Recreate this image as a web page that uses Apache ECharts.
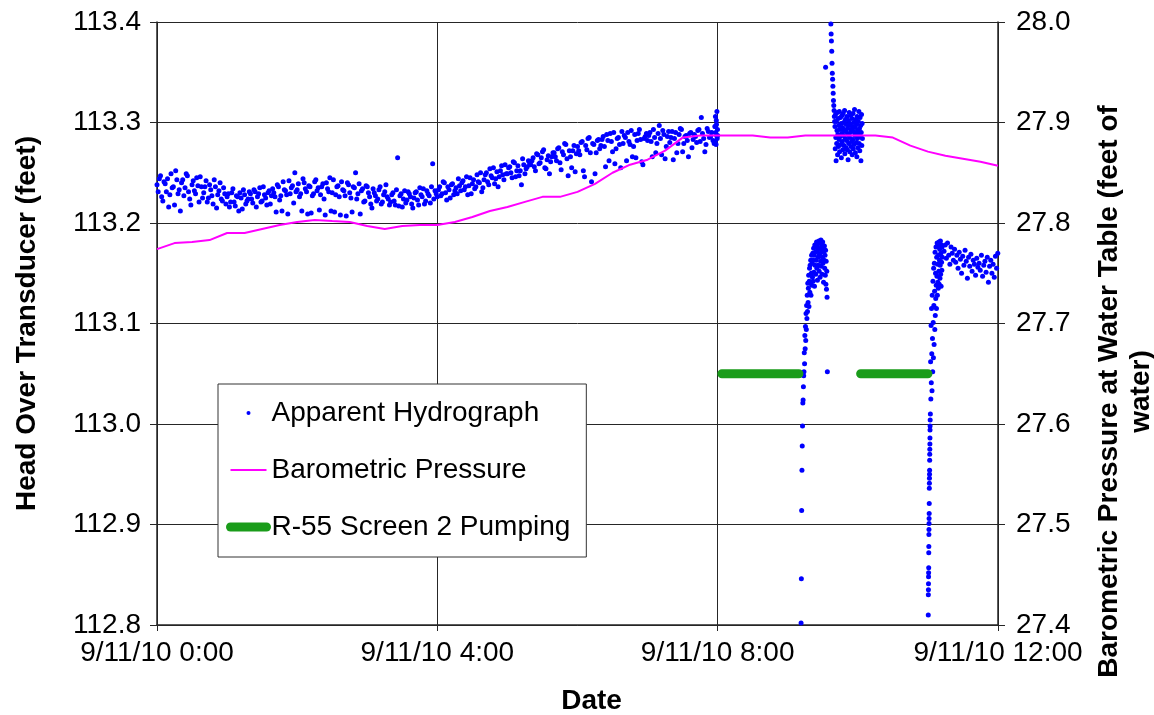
<!DOCTYPE html>
<html>
<head>
<meta charset="utf-8">
<script src="https://cdn.jsdelivr.net/npm/echarts@6/dist/echarts.min.js"></script>
<style>
html,body{margin:0;padding:0;background:#fff;}
#chart{width:1154px;height:715px;}
</style>
</head>
<body>
<div id="chart"></div>
<script>
// ---------- DATA (hours after 9/11/10 0:00) ----------
const xTickHours = [0, 4, 8, 12];
const datePrefix = '9/11/10 ';

// Apparent hydrograph, pre-pumping record: even minutes from 0:00, every 2 min
const hydroA_start = 0, hydroA_stepMin = 2;
const hydroA = [
113.238,113.244,113.226,113.241,113.231,113.216,113.249,113.236,113.252,113.229,
113.212,113.243,113.235,113.247,113.224,113.238,113.232,113.245,113.221,113.236,
113.230,113.242,113.225,113.233,113.219,113.236,113.228,113.240,113.222,113.229,
113.226,113.216,113.230,113.221,113.227,113.212,113.225,113.233,113.219,113.224,
113.229,113.220,113.231,113.226,113.235,113.222,113.228,113.218,113.232,113.227,
113.230,113.211,113.236,113.227,113.241,113.232,113.209,113.229,113.237,113.250,
113.233,113.226,113.212,113.240,113.231,113.237,113.210,113.229,113.243,113.235,
113.228,113.239,113.208,113.234,113.245,113.230,113.211,113.236,113.226,113.241,
113.232,113.207,113.238,113.225,113.236,113.250,113.229,113.209,113.234,113.222,
113.236,113.226,113.215,113.230,113.222,113.233,113.219,113.228,113.238,113.224,
113.221,113.230,113.218,113.265,113.227,113.216,113.232,113.223,113.229,113.219,
113.225,113.231,113.218,113.228,113.234,113.222,113.229,113.220,113.259,113.232,
113.226,113.236,113.229,113.240,113.223,113.233,113.238,113.228,113.235,113.244,
113.232,113.242,113.236,113.228,113.245,113.239,113.234,113.248,113.240,113.231,
113.243,113.250,113.238,113.247,113.255,113.244,113.236,113.252,113.248,113.258,
113.249,113.256,113.245,113.260,113.252,113.247,113.238,113.258,113.254,113.262,
113.258,113.265,113.252,113.268,113.260,113.271,113.255,113.263,113.249,113.266,
113.270,113.262,113.275,113.253,113.268,113.278,113.247,113.266,113.272,113.251,
113.276,113.268,113.281,113.246,113.273,113.285,113.241,113.278,113.270,113.283,
113.277,113.286,113.256,113.282,113.289,113.271,113.259,113.284,113.278,113.291,
113.287,113.262,113.281,113.292,113.276,113.265,113.289,113.283,113.258,113.286,
113.282,113.290,113.266,113.285,113.279,113.297,113.268,113.288,113.276,113.291,
113.285,113.263,113.290,113.279,113.294,113.271,113.286,113.282,113.289,113.275,
113.288,113.280,113.293,113.305,113.284,113.278,113.291,113.286,113.282,113.296,
113.287
];
// odd minutes from 0:01, every 2 min
const hydroA2_start = 1 / 60, hydroA2_stepMin = 2;
const hydroA2 = [
113.231,113.247,113.222,113.239,113.244,113.228,113.235,113.218,113.243,113.233,
113.240,113.227,113.249,113.231,113.218,113.242,113.229,113.237,113.246,113.225,
113.236,113.221,113.238,113.227,113.243,113.215,113.232,113.224,113.235,113.219,
113.229,113.221,113.234,113.217,113.226,113.230,113.214,113.228,113.222,113.231,
113.224,113.233,113.216,113.229,113.221,113.236,113.225,113.230,113.219,113.234,
113.226,113.238,113.223,113.212,113.233,113.228,113.242,113.235,113.220,113.231,
113.239,113.229,113.244,113.234,113.209,113.236,113.227,113.241,113.232,113.213,
113.236,113.224,113.240,113.231,113.212,113.243,113.228,113.237,113.208,113.233,
113.227,113.240,113.230,113.211,113.235,113.224,113.239,113.232,113.221,113.237,
113.230,113.219,113.234,113.227,113.224,113.236,113.221,113.231,113.226,113.218,
113.228,113.222,113.233,113.217,113.229,113.224,113.220,113.231,113.226,113.215,
113.230,113.223,113.235,113.226,113.219,113.232,113.227,113.236,113.224,113.229,
113.233,113.227,113.241,113.230,113.236,113.225,113.239,113.232,113.229,113.237,
113.240,113.233,113.246,113.237,113.229,113.243,113.236,113.241,113.250,113.235,
113.248,113.241,113.254,113.245,113.239,113.251,113.246,113.257,113.243,113.249,
113.255,113.250,113.261,113.246,113.257,113.252,113.264,113.249,113.256,113.259,
113.262,113.256,113.269,113.259,113.265,113.273,113.254,113.267,113.261,113.270,
113.266,113.274,113.260,113.271,113.279,113.264,113.272,113.255,113.277,113.269,
113.272,113.280,113.252,113.277,113.284,113.270,113.279,113.249,113.282,113.274,
113.283,113.276,113.288,113.262,113.281,113.290,113.274,113.285,113.255,113.279,
113.285,113.290,113.278,113.266,113.288,113.282,113.293,113.261,113.284,113.289,
113.287,113.281,113.293,113.270,113.289,113.284,113.292,113.264,113.286,113.280,
113.291,113.284,113.270,113.288,113.293,113.279,113.287,113.266,113.290,113.283,
113.286,113.292,113.281,113.289,113.271,113.294,113.285,113.290,113.279,113.298
];
// burst of readings just before 8:00
const hydroB_start = 7.96, hydroB_stepMin = 0.25;
const hydroB = [113.296,113.281,113.306,113.290,113.278,113.302,113.287,113.311,113.284,113.293];

// first recovery after pumping stops (~9:11)
const recov1_start = 9.19, recov1_stepMin = 0.25;
const recov1 = [
112.802,112.846,112.914,112.954,112.978,112.998,113.021,113.024,113.037,113.048,
113.052,113.071,113.060,113.088,113.075,113.097,113.083,113.110,113.094,113.118,
113.105,113.128,113.112,113.140,113.121,113.135,113.148,113.117,113.142,113.155,
113.131,113.158,113.140,113.163,113.128,113.150,113.168,113.138,113.160,113.146,
113.170,113.142,113.163,113.175,113.151,113.168,113.137,113.178,113.158,113.171,
113.149,113.176,113.163,113.181,113.155,113.172,113.143,113.179,113.166,113.158,
113.175,113.182,113.152,113.169,113.180,113.146,113.174,113.162,113.183,113.157,
113.171,113.178,113.149,113.166,113.181,113.160,113.175,113.141,113.172,113.163,
113.177,113.155,113.168,113.148,113.173,113.139,113.162,113.134,113.152,113.126,
113.052
];
// spike and block between the two pumping periods
const spikeTimes = [9.54];
const spikeValues = [113.355];
const block_start = 9.615, block_stepMin = 0.25;
const block = [
113.398,113.388,113.381,113.371,113.359,113.349,113.343,113.336,113.329,113.322,113.317,113.312,113.306,113.301,
113.296,113.274,113.308,113.285,113.262,113.301,113.279,113.292,113.310,113.268,
113.288,113.304,113.276,113.297,113.283,113.311,113.271,113.293,113.286,113.305,
113.278,113.299,113.265,113.289,113.307,113.281,113.295,113.273,113.309,113.287,
113.300,113.277,113.292,113.312,113.269,113.284,113.303,113.291,113.275,113.298,
113.282,113.306,113.273,113.294,113.288,113.263,113.302,113.279,113.297,113.310,
113.285,113.271,113.299,113.290,113.307,113.276,113.293,113.281,113.304,113.268,
113.296,113.283,113.309,113.274,113.291,113.300,113.278,113.313,113.287,113.295,
113.270,113.303,113.289,113.280,113.298,113.266,113.306,113.284,113.292,113.275,
113.301,113.288,113.311,113.279,113.294,113.272,113.305,113.286,113.297,113.262,
113.290,113.308,113.277,113.299,113.284
];
// second recovery (~11:00): fast readings, then band, then 1-min readings
const recov2a_start = 11.005, recov2a_stepMin = 0.06;
const recov2a = [
112.810,112.830,112.835,112.841,112.848,112.852,112.857,112.872,112.878,112.890,
112.895,112.901,112.906,112.911,112.921,112.936,112.941,112.946,112.950,112.954,
112.964,112.970,112.975,112.980,112.986,112.994,112.998,113.004
];
const recov2b_start = 11.035, recov2b_stepMin = 0.2;
const recov2b = [
113.010,113.062,113.025,113.098,113.041,113.115,113.070,113.033,113.128,113.085,
113.052,113.142,113.101,113.066,113.155,113.118,113.079,113.160,113.132,113.094,
113.171,113.108,113.150,113.125,113.176,113.138,113.115,113.166,113.147,113.180,
113.128,113.159,113.141,113.177,113.135,113.168,113.152,113.181,113.139,113.163,
113.174,113.145,113.158,113.182,113.149,113.170,113.137,113.178,113.161,113.153,
113.176,113.166
];
const recov2c_start = 11.23, recov2c_stepMin = 1;
const recov2c = [
113.172,113.178,113.165,113.180,113.168,113.159,113.176,113.170,113.163,113.174,
113.161,113.168,113.155,113.171,113.164,113.150,113.167,113.158,113.173,113.162,
113.145,113.166,113.157,113.169,113.152,113.163,113.159,113.148,113.165,113.156,
113.160,113.153,113.168,113.147,113.158,113.162,113.151,113.166,113.141,113.157,
113.163,113.150,113.159,113.146,113.167,113.155,113.170
];

// Barometric pressure (feet of water), every 15 min from 0:00 to 12:00
const baroStepMin = 15;
const baro = [
27.774,27.780,27.781,27.783,27.790,27.790,27.794,27.798,27.801,27.803,
27.802,27.801,27.797,27.794,27.797,27.798,27.798,27.801,27.806,27.812,
27.816,27.821,27.826,27.826,27.831,27.839,27.850,27.858,27.863,27.872,
27.885,27.887,27.887,27.887,27.887,27.885,27.885,27.887,27.887,27.887,
27.887,27.887,27.885,27.877,27.871,27.867,27.864,27.861,27.857
];

// R-55 Screen 2 pumping periods (drawn at head 113.05)
const pumpStart = [8.06, 10.04];
const pumpEnd = [9.16, 11.0];
const pumpLevel = 113.05;

// ---------- BUILD ----------
function seg(startH, stepMin, vals) {
  return vals.map((v, i) => [startH + i * stepMin / 60, v]);
}
const hydroData = [].concat(
  seg(hydroA_start, hydroA_stepMin, hydroA),
  seg(hydroA2_start, hydroA2_stepMin, hydroA2),
  seg(hydroB_start, hydroB_stepMin, hydroB),
  seg(recov1_start, recov1_stepMin, recov1),
  spikeTimes.map((t, i) => [t, spikeValues[i]]),
  seg(block_start, block_stepMin, block),
  seg(recov2a_start, recov2a_stepMin, recov2a),
  seg(recov2b_start, recov2b_stepMin, recov2b),
  seg(recov2c_start, recov2c_stepMin, recov2c)
);
const baroData = seg(0, baroStepMin, baro);
const pumpData = [];
pumpStart.forEach((s, i) => {
  if (i > 0) pumpData.push([(pumpEnd[i - 1] + s) / 2, '-']);
  pumpData.push([s, pumpLevel], [pumpEnd[i], pumpLevel]);
});

const FONT = 'Liberation Sans, Arial, sans-serif';
const lineCol = '#262626';

const chart = echarts.init(document.getElementById('chart'), null, {renderer: 'canvas'});
chart.setOption({
  animation: false,
  backgroundColor: '#fff',
  textStyle: {fontFamily: FONT, color: '#000'},
  grid: {left: 157, right: 156, top: 22, bottom: 90, containLabel: false, outerBoundsMode: 'none'},
  legend: {
    orient: 'vertical',
    left: 218, top: 384,
    padding: [15, 16, 16, 8],
    itemGap: 29,
    itemWidth: 36, itemHeight: 4,
    backgroundColor: '#fff',
    borderColor: '#333', borderWidth: 1,
    textStyle: {fontSize: 28, fontFamily: FONT, color: '#000'},
    data: [
      {name: 'Apparent Hydrograph'},
      {name: 'Barometric Pressure', itemStyle: {opacity: 0}, lineStyle: {width: 2}},
      {name: 'R-55 Screen 2 Pumping', itemStyle: {opacity: 0}, lineStyle: {width: 9, cap: 'round'}}
    ]
  },
  xAxis: {
    type: 'value', min: 0, max: 12, interval: 4,
    name: 'Date', nameLocation: 'middle', nameGap: 62,
    nameTextStyle: {fontSize: 28, fontWeight: 'bold', fontFamily: FONT, color: '#000', padding: [0, 0, 0, 28]},
    axisLine: {show: true, lineStyle: {color: lineCol, width: 1.5}},
    axisTick: {show: true, inside: false, length: 6, lineStyle: {color: lineCol}},
    splitLine: {show: true, lineStyle: {color: lineCol, width: 1}},
    axisLabel: {
      fontSize: 28, color: '#000', fontFamily: FONT, margin: 14,
      showMinLabel: true, showMaxLabel: true,
      formatter: v => xTickHours.indexOf(v) >= 0 ? datePrefix + v + ':00' : ''
    }
  },
  yAxis: [{
    type: 'value', min: 112.8, max: 113.4, interval: 0.1, position: 'left',
    name: 'Head Over Transducer (feet)', nameLocation: 'middle', nameGap: 116,
    nameTextStyle: {fontSize: 28, fontWeight: 'bold', fontFamily: FONT, color: '#000'},
    axisLine: {show: true, lineStyle: {color: lineCol, width: 1.5}},
    axisTick: {show: true, inside: false, length: 7, lineStyle: {color: lineCol}},
    splitLine: {show: true, lineStyle: {color: lineCol, width: 1}},
    axisLabel: {fontSize: 28, color: '#000', fontFamily: FONT, margin: 16, formatter: v => v.toFixed(1)}
  }, {
    type: 'value', min: 27.4, max: 28.0, interval: 0.1, position: 'right',
    name: 'Barometric Pressure at Water Table (feet of\nwater)', nameLocation: 'middle', nameGap: 95,
    nameTextStyle: {fontSize: 28, fontWeight: 'bold', fontFamily: FONT, color: '#000', lineHeight: 32, align: 'center', padding: [0, 136, 0, 0]},
    axisLine: {show: true, lineStyle: {color: lineCol, width: 1.5}},
    axisTick: {show: true, inside: false, length: 7, lineStyle: {color: lineCol}},
    splitLine: {show: false},
    axisLabel: {fontSize: 28, color: '#000', fontFamily: FONT, margin: 18, formatter: v => v.toFixed(1)}
  }],
  series: [{
    name: 'Apparent Hydrograph', type: 'scatter', yAxisIndex: 0,
    symbol: 'circle', symbolSize: 5,
    itemStyle: {color: '#0000ff', opacity: 1},
    data: hydroData, z: 2
  }, {
    name: 'Barometric Pressure', type: 'line', yAxisIndex: 1,
    symbol: 'none', showSymbol: false,
    lineStyle: {color: '#ff00ff', width: 2},
    itemStyle: {color: '#ff00ff'},
    data: baroData, z: 3
  }, {
    name: 'R-55 Screen 2 Pumping', type: 'line', yAxisIndex: 0,
    symbol: 'none', showSymbol: false, connectNulls: false,
    lineStyle: {color: '#1a9c1a', width: 9, cap: 'round'},
    itemStyle: {color: '#1a9c1a'},
    data: pumpData, z: 4
  }]
});
</script>
</body>
</html>
